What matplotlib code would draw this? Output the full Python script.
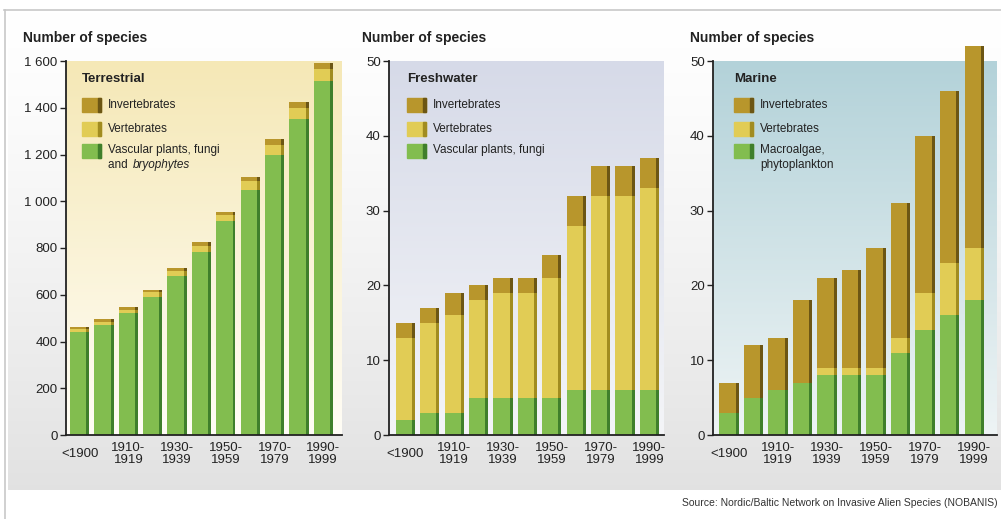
import numpy as np
import matplotlib
matplotlib.use('Agg')
import matplotlib.pyplot as plt
from matplotlib.patches import Rectangle
from matplotlib.lines import Line2D

plt.rcParams['font.family'] = ['Liberation Sans', 'DejaVu Sans']

# ---- data ----
periods = ['<1900', '1900-1909', '1910-1919', '1920-1929', '1930-1939', '1940-1949',
           '1950-1959', '1960-1969', '1970-1979', '1980-1989', '1990-1999']
tick_labels = ['<1900', '1910-\n1919', '1930-\n1939', '1950-\n1959', '1970-\n1979', '1990-\n1999']

terr_plants = [440, 470, 520, 590, 680, 785, 915, 1050, 1200, 1350, 1515]
terr_vert = [12, 15, 15, 20, 22, 25, 27, 35, 40, 50, 50]
terr_invert = [10, 12, 12, 12, 13, 15, 13, 20, 25, 25, 28]

fresh_plants = [2, 3, 3, 5, 5, 5, 5, 6, 6, 6, 6]
fresh_vert = [11, 12, 13, 13, 14, 14, 16, 22, 26, 26, 27]
fresh_invert = [2, 2, 3, 2, 2, 2, 3, 4, 4, 4, 4]

mar_algae = [3, 5, 6, 7, 8, 8, 8, 11, 14, 16, 18]
mar_vert = [0, 0, 0, 0, 1, 1, 1, 2, 5, 7, 7]
mar_invert = [4, 7, 7, 11, 12, 13, 16, 18, 21, 23, 27]

W, H = 1001, 519
BAR_W = 0.79
STRIP_W = 0.12

GREEN, GREEN_D = '#82bd4f', '#3f7f2b'
YELLOW, YELLOW_D = '#e1cc55', '#a18c20'
GOLD, GOLD_D = '#b8962c', '#6c5614'
TXT = '#222222'


def fx(px):
    return px / W


def fy(py):
    return 1 - py / H


fig = plt.figure(figsize=(W / 100, H / 100), dpi=100)
fig.patch.set_facecolor('white')

# light grey gradient frame behind the three panels
bg = fig.add_axes([fx(8), fy(490), 1 - fx(8), (490 - 12) / H], zorder=-5)
grad = np.linspace(0, 1, 256).reshape(-1, 1)
bg.imshow(np.dstack([1 - 0.115 * grad ** 1.3] * 3), aspect='auto', extent=(0, 1, 0, 1))
bg.set_axis_off()
fig.add_artist(Line2D([fx(4), 1], [fy(10), fy(10)], color='#c8c8c8', lw=1.2))
fig.add_artist(Line2D([fx(5), fx(5)], [fy(10), 0], color='#c8c8c8', lw=1.2))

x = np.arange(len(periods))

panels = [
    dict(box=(66, 342), xlim=(-0.56, 10.77), ymax=1600, step=200,
         layers=[terr_plants, terr_vert, terr_invert],
         top='#f5e8b6', bottom='#fffdf6', title='Terrestrial', tx=23, lx=82,
         green_label=['Vascular plants, fungi', 'and ', 'bryophytes']),
    dict(box=(389, 664), xlim=(-0.67, 10.6), ymax=50, step=10,
         layers=[fresh_plants, fresh_vert, fresh_invert],
         top='#d6dae8', bottom='#f4f5f8', title='Freshwater', tx=362, lx=407,
         green_label=['Vascular plants, fungi']),
    dict(box=(713, 997), xlim=(-0.655, 10.93), ymax=50, step=10,
         layers=[mar_algae, mar_vert, mar_invert],
         top='#b3d2d9', bottom='#eef4f5', title='Marine', tx=690, lx=734,
         green_label=['Macroalgae,', 'phytoplankton']),
]

TOP, BOT = 61, 435

for p in panels:
    l, r = p['box']
    ax = fig.add_axes([fx(l), fy(BOT), (r - l) / W, (BOT - TOP) / H])
    c_top = np.array(matplotlib.colors.to_rgb(p['top']))
    c_bot = np.array(matplotlib.colors.to_rgb(p['bottom']))
    img = c_top[None, None, :] * (1 - grad[:, :, None]) + c_bot[None, None, :] * grad[:, :, None]
    ax.imshow(img, aspect='auto', extent=(0, 1, 0, 1), transform=ax.transAxes, zorder=0)

    bottom = np.zeros(len(x))
    for vals, c, d in zip(p['layers'], [GREEN, YELLOW, GOLD], [GREEN_D, YELLOW_D, GOLD_D]):
        vals = np.array(vals, dtype=float)
        ax.bar(x, vals, BAR_W, bottom=bottom, color=c, zorder=3, clip_on=False)
        ax.bar(x + BAR_W / 2 - STRIP_W / 2, vals, STRIP_W, bottom=bottom, color=d,
               zorder=3, clip_on=False)
        bottom += vals

    ax.set_xlim(*p['xlim'])
    ax.set_ylim(0, p['ymax'])
    yt = np.arange(0, p['ymax'] + 1, p['step'])
    ax.set_yticks(yt)
    ax.set_yticklabels([f'{v:,}'.replace(',', ' ') for v in yt], fontsize=9.5, color=TXT)
    ax.set_xticks(x[::2])
    ax.set_xticklabels(tick_labels, fontsize=9.5, color=TXT, va='center', linespacing=1.0)
    ax.tick_params(axis='x', length=0, pad=14)
    ax.tick_params(axis='y', length=4, width=1, color=TXT, pad=2, direction='out')
    for s in ['top', 'right']:
        ax.spines[s].set_visible(False)
    for s in ['left', 'bottom']:
        ax.spines[s].set_color(TXT)
        ax.spines[s].set_linewidth(1.3)
        ax.spines[s].set_zorder(4)

    # headings
    fig.text(fx(p['tx']), fy(42), 'Number of species', fontsize=10, weight='bold',
             color=TXT, va='baseline')
    lx = p['lx']
    fig.text(fx(lx), fy(82), p['title'], fontsize=9.5, weight='bold', color=TXT,
             va='baseline')

    # legend
    entries = [('Invertebrates', GOLD, GOLD_D, 105),
               ('Vertebrates', YELLOW, YELLOW_D, 129),
               (None, GREEN, GREEN_D, 151)]
    for lab, c, d, cy in entries:
        fig.add_artist(Rectangle((fx(lx), fy(cy + 7)), 19 / W, 14 / H, color=c,
                                 transform=fig.transFigure))
        fig.add_artist(Rectangle((fx(lx + 16), fy(cy + 7)), 3 / W, 14 / H, color=d,
                                 transform=fig.transFigure))
        if lab is not None:
            fig.text(fx(lx + 26), fy(cy), lab, fontsize=8.5, color=TXT, va='center')
    gl = p['green_label']
    fig.text(fx(lx + 26), fy(150), gl[0], fontsize=8.5, color=TXT, va='center')
    if len(gl) == 2:
        fig.text(fx(lx + 26), fy(165), gl[1], fontsize=8.5, color=TXT, va='center')
    elif len(gl) == 3:
        fig.text(fx(lx + 26), fy(165), gl[1], fontsize=8.5, color=TXT, va='center')
        fig.text(fx(lx + 26 + 25), fy(165), gl[2], fontsize=8.5, color=TXT, va='center',
                 style='italic')

fig.text(fx(998), fy(503), 'Source: Nordic/Baltic Network on Invasive Alien Species (NOBANIS)',
         fontsize=7.5, color='#333333', ha='right', va='center')

fig.savefig('out.png', dpi=100)
